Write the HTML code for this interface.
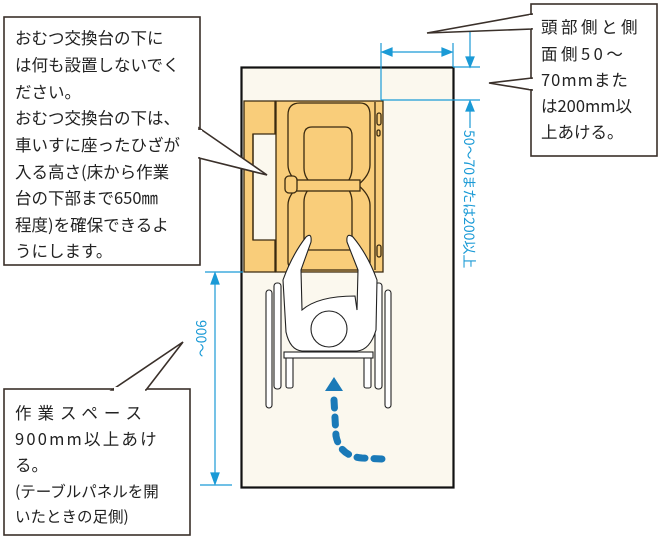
<!DOCTYPE html>
<html><head><meta charset="utf-8"><style>
html,body{margin:0;padding:0;background:#fff;}
svg{display:block;font-family:"Liberation Sans","Noto Sans CJK JP",sans-serif;}
.jp{font-family:"Noto Sans CJK JP","Liberation Sans",sans-serif;}
</style></head><body>
<svg width="663" height="539" viewBox="0 0 663 539" xmlns="http://www.w3.org/2000/svg">
<rect width="663" height="539" fill="#fff"/>
<rect x="241.5" y="67.5" width="212" height="420" fill="#fbf8ee" stroke="#111" stroke-width="2.2"/>
<g stroke="#3a2a10" stroke-width="1.3" fill="#f9cd7a">
<path d="M244 101 H275 V134 H253 V240 H275 V272 H244 Z"/>
<path d="M276 101 H383 V272 H276 Z"/>
<path d="M253 134 V240" fill="none"/>
<path d="M375 102 V270" fill="none"/>
<path d="M300 103 H360 Q370 103 370 115 V165 Q370 175 358 185 Q370 195 370 205 V262 Q370 270 360 270 H300 Q288 270 288 262 V205 Q288 195 300 185 Q288 175 288 165 V115 Q288 103 300 103 Z" fill="#f9cd7a"/>
<path d="M312 127 H345 Q352 127 352 136 V168 Q352 178 345 185 Q352 192 352 202 V250 H304 V202 Q304 192 313 185 Q304 178 304 168 V136 Q304 127 312 127 Z" fill="#f9cd7a"/>
<rect x="292" y="180" width="68" height="11" fill="#f9cd7a"/>
<rect x="285" y="176" width="12" height="17" rx="4" fill="#f9cd7a"/>
<rect x="377" y="113" width="4" height="12" rx="2" fill="#f9cd7a"/>
<rect x="377" y="130" width="3" height="6" rx="1.5"/>
<rect x="377" y="245" width="4" height="12" rx="2"/>
</g>
<g stroke="#222" stroke-width="1.1" fill="#fff">
<rect x="266" y="290" width="6" height="118" rx="3"/>
<rect x="274" y="283" width="7" height="106" rx="3"/>
<rect x="385" y="290" width="6" height="118" rx="3"/>
<rect x="375" y="283" width="7" height="106" rx="3"/>
<rect x="286" y="356" width="7" height="32" rx="2"/>
<rect x="364" y="356" width="7" height="32" rx="2"/>
<rect x="284" y="352" width="89" height="6"/>
<path d="M306 237 Q312 232 311 242 L301 270 L302 310 Q318 296 355 296 L357 310 L358 270 L347 242 Q346 232 353 237 Q368 255 377 280 L376 330 Q370 350 357 351 H302 Q290 350 286 332 L283 280 Q292 255 306 237 Z"/>
<circle cx="329" cy="329" r="18"/>
</g>
<path d="M334 400 L336 436 Q340 456 362 458 L383 459" fill="none" stroke="#1a7ab8" stroke-width="7" stroke-linecap="round" stroke-dasharray="8 9"/>
<polygon points="325,391 343,391 334,377" fill="#1a7ab8"/>
<g stroke="#1a9ad6" stroke-width="1.2" fill="#1a9ad6">
<line x1="381" y1="43" x2="381" y2="100"/>
<line x1="453" y1="43" x2="453" y2="67"/>
<line x1="383" y1="52" x2="451" y2="52"/>
<polygon points="382,52 392,48 392,56"/><polygon points="452,52 442,48 442,56"/>
<line x1="453" y1="67" x2="480" y2="67"/>
<line x1="381" y1="100" x2="480" y2="100"/>
<line x1="470" y1="30" x2="470" y2="66"/>
<polygon points="470,67 466,57 474,57"/>
<line x1="470" y1="101" x2="470" y2="128"/>
<polygon points="470,101 466,111 474,111"/>
<line x1="205" y1="272" x2="243" y2="272"/>
<line x1="200" y1="485" x2="232" y2="485"/>
<line x1="215" y1="274" x2="215" y2="482"/>
<polygon points="215,273 211,284 219,284"/><polygon points="215,484 211,473 219,473"/>
</g>
<text class="jp" transform="translate(464,130) rotate(90)" font-size="14" fill="#1a9ad6">50～70または200以上</text>
<text class="jp" transform="translate(196,320) rotate(90)" font-size="14" fill="#1a9ad6">900～</text>
<g fill="#fff" stroke="#3a302a" stroke-width="1.6">
<rect x="4" y="17" width="196" height="248"/>
<polygon points="199,128 267,175 199,158"/>
<rect x="531" y="4" width="126" height="152"/>
<polygon points="532,14 427,33 532,29"/>
<polygon points="532,78 489,83 532,90"/>
<rect x="4" y="389" width="186" height="146"/>
<polygon points="112,390 183,342 146,390"/>
</g>
<g fill="#fff"><rect x="198" y="130" width="4" height="27"/><rect x="529" y="15" width="4" height="13"/><rect x="529" y="79" width="4" height="10"/><rect x="114" y="387" width="31" height="4"/></g>
<g class="jp" font-size="16.5" fill="#222">
<text x="15" y="44">おむつ交換台の下に</text>
<text x="15" y="71">は何も設置しないでく</text>
<text x="15" y="98">ださい。</text>
<text x="15" y="124">おむつ交換台の下は、</text>
<text x="15" y="151">車いすに座ったひざが</text>
<text x="15" y="178">入る高さ(床から作業</text>
<text x="15" y="204">台の下部まで650㎜</text>
<text x="15" y="231">程度)を確保できるよ</text>
<text x="15" y="257">うにします。</text>
<text x="541" y="33" letter-spacing="3.5">頭部側と側</text>
<text x="541" y="60" letter-spacing="3.5">面側50～</text>
<text x="541" y="86" letter-spacing="1">70mmまた</text>
<text x="541" y="112">は200mm以</text>
<text x="541" y="138">上あける。</text>
<text x="15" y="419" letter-spacing="6">作業スペース</text>
<text x="15" y="445" letter-spacing="2.2">900mm以上あけ</text>
<text x="15" y="471">る。</text>
<text x="15" y="497" font-size="15.5">(テーブルパネルを開</text>
<text x="15" y="522" font-size="15.5">いたときの足側)</text>
</g>
</svg>
</body></html>
